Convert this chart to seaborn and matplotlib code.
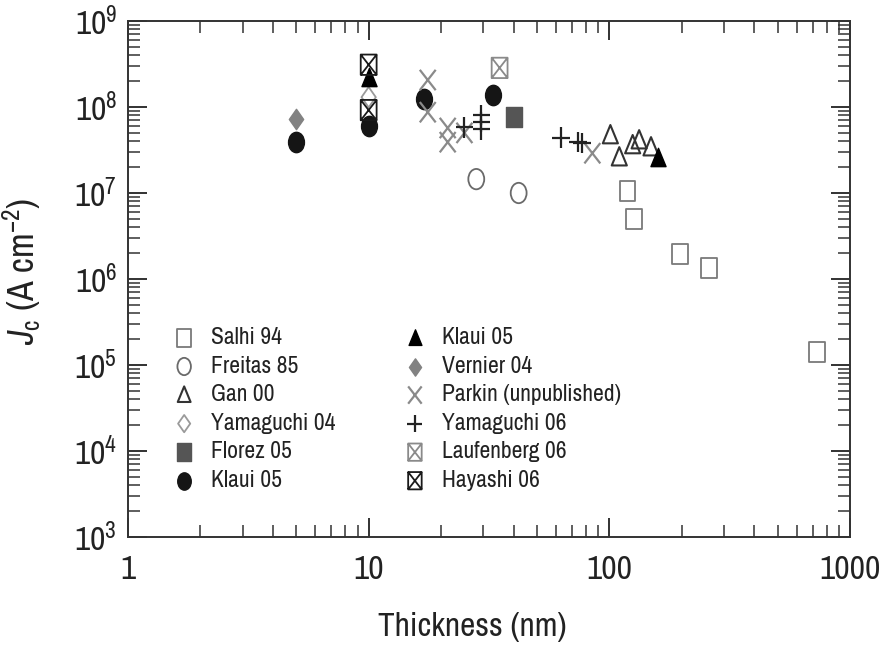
import numpy as np
import matplotlib
matplotlib.use("Agg")
import matplotlib.pyplot as plt
from matplotlib.path import Path
from matplotlib import font_manager
from matplotlib.ticker import LogLocator, NullFormatter
import seaborn as sns

# ---------------- data ----------------
series_labels = ["Salhi 94", "Freitas 85", "Gan 00", "Yamaguchi 04", "Florez 05", "Klaui 05",
                 "Klaui 05", "Vernier 04", "Parkin (unpublished)", "Yamaguchi 06",
                 "Laufenberg 06", "Hayashi 06"]

salhi_x = [119, 127, 197, 260, 730]
salhi_y = [1.05e7, 5.0e6, 1.95e6, 1.34e6, 1.42e5]

freitas_x = [28, 42]
freitas_y = [1.45e7, 1.0e7]

gan_x = [101, 110, 125, 133, 149]
gan_y = [4.7e7, 2.6e7, 3.6e7, 4.1e7, 3.4e7]

yam04_x = [10]
yam04_y = [1.3e8]

florez_x = [40]
florez_y = [7.65e7]

klaui_c_x = [5, 10, 17, 33]
klaui_c_y = [3.9e7, 6.0e7, 1.24e8, 1.38e8]

klaui_t_x = [10, 160]
klaui_t_y = [2.2e8, 2.55e7]

vernier_x = [5]
vernier_y = [7.2e7]

parkin_x = [17.6, 17.6, 21.3, 21.3, 25, 85]
parkin_y = [2.06e8, 8.7e7, 5.7e7, 3.9e7, 5.0e7, 2.9e7]

yam06_x = [25, 29.4, 29.4, 29.4, 63, 74, 77]
yam06_y = [5.8e7, 8.1e7, 6.7e7, 5.5e7, 4.4e7, 3.9e7, 3.8e7]

lauf_x = [35]
lauf_y = [2.85e8]

hayashi_x = [10, 10]
hayashi_y = [3.1e8, 9.2e7]

x_ticks = [1, 10, 100, 1000]
x_ticklabels = ["1", "10", "100", "1000"]
y_exponents = [3, 4, 5, 6, 7, 8, 9]

# ---------------- fonts ----------------
names = {f.name for f in font_manager.fontManager.ttflist}
main_font = "Liberation Sans"
for cand in ["Liberation Sans Narrow", "Arial Narrow", "Archivo Narrow", "Roboto Condensed",
             "Pragati Narrow", "IBM Plex Sans Condensed", "Open Sans Condensed"]:
    if cand in names:
        main_font = cand
        break

sns.set_style("ticks")
plt.rcParams["font.family"] = [main_font, "Liberation Sans", "DejaVu Sans"]
plt.rcParams["mathtext.fontset"] = "custom"
plt.rcParams["mathtext.rm"] = main_font
plt.rcParams["mathtext.it"] = main_font + ":italic"
plt.rcParams["mathtext.bf"] = main_font + ":bold"

# ---------------- markers (slightly tall, like the source) ----------------
AX = 0.78
def P(verts, codes=None):
    v = np.array(verts, float)
    v[:, 0] *= AX
    return Path(v, codes)

sq = P([(-1, -1), (1, -1), (1, 1), (-1, 1), (-1, -1)],
       [Path.MOVETO, Path.LINETO, Path.LINETO, Path.LINETO, Path.CLOSEPOLY])
uc = Path.unit_circle()
circ = P(uc.vertices, uc.codes)
tri = P([(0, 1), (-0.95, -0.8), (0.95, -0.8), (0, 1)],
        [Path.MOVETO, Path.LINETO, Path.LINETO, Path.CLOSEPOLY])
dia = P([(0, 1), (-0.9, 0), (0, -1), (0.9, 0), (0, 1)],
        [Path.MOVETO, Path.LINETO, Path.LINETO, Path.LINETO, Path.CLOSEPOLY])
xm = P([(-1, -1), (1, 1), (-1, 1), (1, -1)],
       [Path.MOVETO, Path.LINETO, Path.MOVETO, Path.LINETO])
pl = P([(-1.1, 0), (1.1, 0), (0, -1), (0, 1)],
       [Path.MOVETO, Path.LINETO, Path.MOVETO, Path.LINETO])
bx = P([(-1, -1), (1, -1), (1, 1), (-1, 1), (-1, -1),
        (-1, -1), (1, 1), (-1, 1), (1, -1)],
       [Path.MOVETO, Path.LINETO, Path.LINETO, Path.LINETO, Path.CLOSEPOLY,
        Path.MOVETO, Path.LINETO, Path.MOVETO, Path.LINETO])

# ---------------- figure ----------------
fig = plt.figure(figsize=(8.85, 6.48), dpi=100)
ax = fig.add_axes([128 / 885, 1 - 537 / 648, (850 - 128) / 885, (537 - 21) / 648])

S = 215
specs = [
    (salhi_x, salhi_y, sq, "none", "#7a7a7a", 1.3, S),
    (freitas_x, freitas_y, circ, "none", "#6a6a6a", 1.3, S),
    (gan_x, gan_y, tri, "none", "#333333", 1.5, S),
    (yam04_x, yam04_y, dia, "none", "#9a9a9a", 1.3, S),
    (florez_x, florez_y, sq, "#555555", "#555555", 1.0, S),
    (klaui_c_x, klaui_c_y, circ, "#151515", "#151515", 1.0, S),
    (klaui_t_x, klaui_t_y, tri, "#000000", "#000000", 1.0, S),
    (vernier_x, vernier_y, dia, "#828282", "#828282", 1.0, S),
    (parkin_x, parkin_y, xm, "none", "#8a8a8a", 1.6, S),
    (yam06_x, yam06_y, pl, "none", "#222222", 1.6, S),
    (lauf_x, lauf_y, bx, "none", "#8a8a8a", 1.3, S),
    (hayashi_x, hayashi_y, bx, "none", "#1a1a1a", 1.3, S),
]

for (xs, ys, mk, fc, ec, lw, s), lab in zip(specs, series_labels):
    sns.scatterplot(x=xs, y=ys, marker=mk, s=s, facecolor=fc, edgecolor=ec,
                    linewidth=lw, label=lab, ax=ax, legend=False, zorder=3)

ax.set_xscale("log")
ax.set_yscale("log")
ax.set_xlim(1, 1000)
ax.set_ylim(1e3, 1e9)

ax.set_xticks(x_ticks)
ax.set_xticklabels(x_ticklabels)
ax.xaxis.set_minor_locator(LogLocator(base=10, subs=np.arange(2, 10), numticks=20))
ax.xaxis.set_minor_formatter(NullFormatter())
ax.set_yticks([10.0 ** e for e in y_exponents])
ax.set_yticklabels([r"$\mathregular{10^{%d}}$" % e for e in y_exponents])
ax.yaxis.set_minor_locator(LogLocator(base=10, subs=np.arange(2, 10), numticks=20))
ax.yaxis.set_minor_formatter(NullFormatter())

for sp in ax.spines.values():
    sp.set_visible(True)
    sp.set_linewidth(1.4)
    sp.set_color("#333333")

ax.tick_params(which="both", direction="in", top=True, right=True, color="#333333")
ax.tick_params(which="major", length=14, width=1.3, labelsize=24, pad=8, colors="#222222")
ax.tick_params(axis="x", which="major", pad=13)
ax.tick_params(which="minor", length=8.5, width=1.1, color="#333333")

ax.set_xlabel("Thickness (nm)", fontsize=24, color="#222222")
ax.xaxis.set_label_coords(0.477, -0.145)
ax.set_ylabel(r"$J_{\mathrm{c}}$ (A cm$^{-2}$)", fontsize=26, color="#222222")
ax.yaxis.set_label_coords(-0.118, 0.515)

leg = ax.legend(loc="upper left", bbox_to_anchor=(0.05, 0.425), ncol=2, frameon=False,
                fontsize=17, markerscale=0.85, handlelength=0.9, handletextpad=0.7,
                columnspacing=2.9, labelspacing=0.32, borderaxespad=0)
for t in leg.get_texts():
    t.set_color("#222222")

fig.savefig("out.png", dpi=100)
